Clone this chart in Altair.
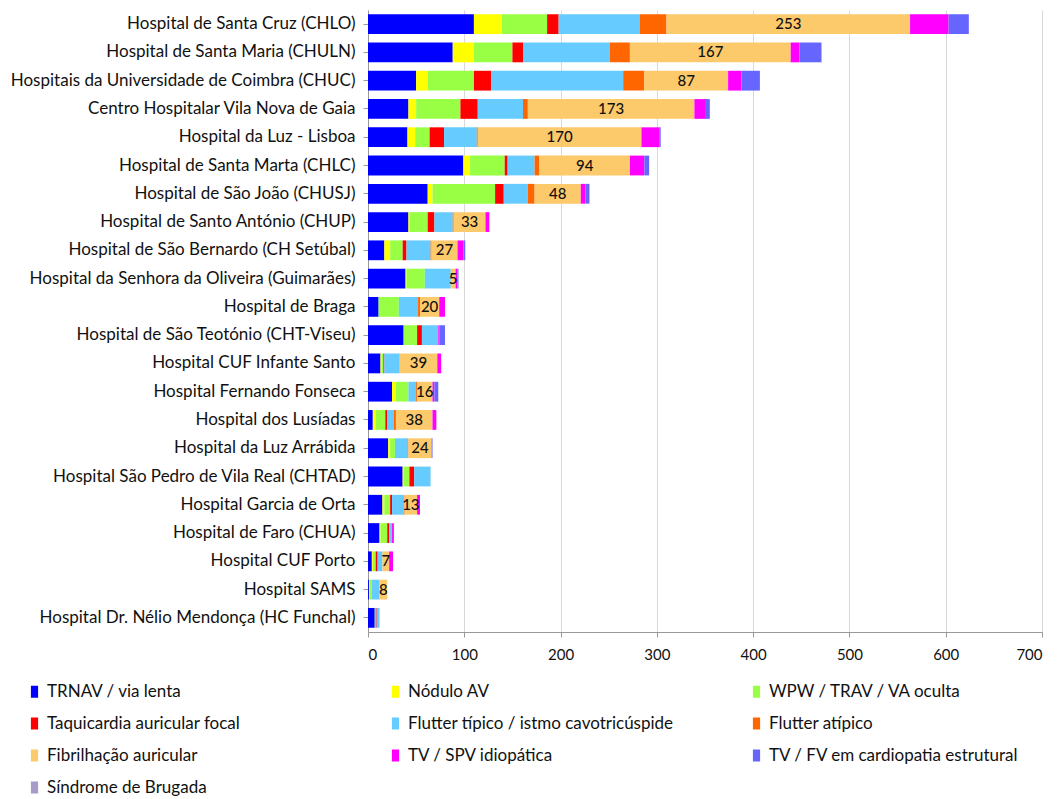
import altair as alt
import pandas as pd

hospitals = [
    "Hospital de Santa Cruz (CHLO)",
    "Hospital de Santa Maria (CHULN)",
    "Hospitais da Universidade de Coimbra (CHUC)",
    "Centro Hospitalar Vila Nova de Gaia",
    "Hospital da Luz - Lisboa",
    "Hospital de Santa Marta (CHLC)",
    "Hospital de São João (CHUSJ)",
    "Hospital de Santo António (CHUP)",
    "Hospital de São Bernardo (CH Setúbal)",
    "Hospital da Senhora da Oliveira (Guimarães)",
    "Hospital de Braga",
    "Hospital de São Teotónio (CHT-Viseu)",
    "Hospital CUF Infante Santo",
    "Hospital Fernando Fonseca",
    "Hospital dos Lusíadas",
    "Hospital da Luz Arrábida",
    "Hospital São Pedro de Vila Real (CHTAD)",
    "Hospital Garcia de Orta",
    "Hospital de Faro (CHUA)",
    "Hospital CUF Porto",
    "Hospital SAMS",
    "Hospital Dr. Nélio Mendonça (HC Funchal)",
]

categories = [
    "TRNAV / via lenta",
    "Nódulo AV",
    "WPW / TRAV / VA oculta",
    "Taquicardia auricular focal",
    "Flutter típico / istmo cavotricúspide",
    "Flutter atípico",
    "Fibrilhação auricular",
    "TV / SPV idiopática",
    "TV / FV em cardiopatia estrutural",
    "Síndrome de Brugada",
]

colors = ["#0000FF", "#FFFF00", "#99FF44", "#FF0000", "#66CCFF",
          "#FF6600", "#FCC96B", "#FF00FF", "#6666FF", "#A99BC9"]

trnav     = [110, 88, 50, 42, 41, 99, 62, 42, 17, 39, 11, 37, 13, 25, 5, 21, 36, 15, 12, 4, 1, 7]
nodulo    = [29, 22, 12, 8, 8, 7, 5, 1, 6, 1, 0, 0, 1, 4, 3, 2, 1, 2, 1, 1, 1, 0]
wpw       = [47, 40, 48, 46, 15, 36, 65, 19, 13, 19, 21, 14, 2, 13, 10, 5, 6, 6, 7, 3, 2, 1]
taqui     = [12, 11, 18, 18, 15, 3, 9, 7, 4, 0, 0, 5, 1, 0, 2, 0, 5, 2, 2, 2, 0, 1]
flutter_t = [84, 90, 137, 47, 34, 28, 25, 19, 25, 27, 20, 17, 16, 8, 7, 13, 17, 12, 3, 5, 8, 3]
flutter_a = [28, 21, 22, 5, 1, 5, 7, 1, 1, 0, 2, 0, 0, 1, 2, 1, 0, 1, 0, 0, 0, 0]
fib       = [253, 167, 87, 173, 170, 94, 48, 33, 27, 5, 20, 0, 39, 16, 38, 24, 0, 13, 0, 7, 8, 0]
tvspv     = [40, 9, 14, 11, 19, 15, 5, 4, 6, 2, 6, 1, 4, 2, 4, 0, 0, 3, 1, 4, 0, 0]
tvfv      = [21, 23, 19, 5, 1, 5, 4, 0, 2, 1, 0, 6, 0, 4, 0, 1, 0, 0, 1, 0, 0, 0]
brugada   = [0, 0, 0, 0, 0, 0, 0, 0, 0, 0, 0, 0, 0, 0, 0, 0, 0, 0, 0, 0, 0, 0]

series = [trnav, nodulo, wpw, taqui, flutter_t, flutter_a, fib, tvspv, tvfv, brugada]

rows = []
for hi, h in enumerate(hospitals):
    cum = 0
    for ci, c in enumerate(categories):
        v = series[ci][hi]
        rows.append({"hospital": h, "categoria": c, "order": ci, "value": v,
                     "start": cum, "end": cum + v, "mid": cum + v / 2})
        cum += v
df = pd.DataFrame(rows)

FONT = "Lato"

y_enc = alt.Y("hospital:N", sort=hospitals, title=None,
              scale=alt.Scale(paddingInner=0.30, paddingOuter=0.15),
              axis=alt.Axis(labelFontSize=17, labelColor="#111111", labelFont=FONT,
                            labelPadding=8, tickSize=5, tickColor="#999999",
                            domainColor="#999999", labelLimit=400))

bars = alt.Chart(df).mark_bar().encode(
    y=y_enc,
    x=alt.X("start:Q", title=None,
            scale=alt.Scale(domain=[0, 700], nice=False),
            axis=alt.Axis(values=[0, 100, 200, 300, 400, 500, 600, 700],
                          labelFontSize=15, labelColor="#111111", labelFont=FONT,
                          labelPadding=10, gridColor="#D9D9D9", tickColor="#999999",
                          domainColor="#999999", tickSize=5, format="d")),
    x2="end:Q",
    color=alt.Color("categoria:N", scale=alt.Scale(domain=categories, range=colors),
                    legend=alt.Legend(title=None, orient="none", legendX=-342, legendY=673,
                                      direction="horizontal",
                                      columns=3, symbolType="M-0.6,-1H0.6V1H-0.6Z",
                                      symbolSize=144,
                                      symbolStrokeWidth=0,
                                      labelFontSize=17, labelFont=FONT, labelColor="#111111",
                                      gridAlign="all", columnPadding=74, rowPadding=14,
                                      labelLimit=400)),
    order=alt.Order("order:Q"),
)

labels = alt.Chart(df).transform_filter(
    (alt.datum.categoria == "Fibrilhação auricular") & (alt.datum.value > 0)
).mark_text(fontSize=15, font=FONT, color="#111111", fontWeight=500).encode(
    y=alt.Y("hospital:N", sort=hospitals),
    x=alt.X("mid:Q"),
    text=alt.Text("value:Q"),
)

chart = alt.layer(bars, labels).properties(
    width=674, height=622,
    padding={"left": 2, "top": 2, "right": 12, "bottom": 150},
).configure_view(stroke=None).configure_axis(grid=False).configure_axisX(grid=True)

chart.save("out.html", embed_options={"renderer": "svg", "actions": False})
